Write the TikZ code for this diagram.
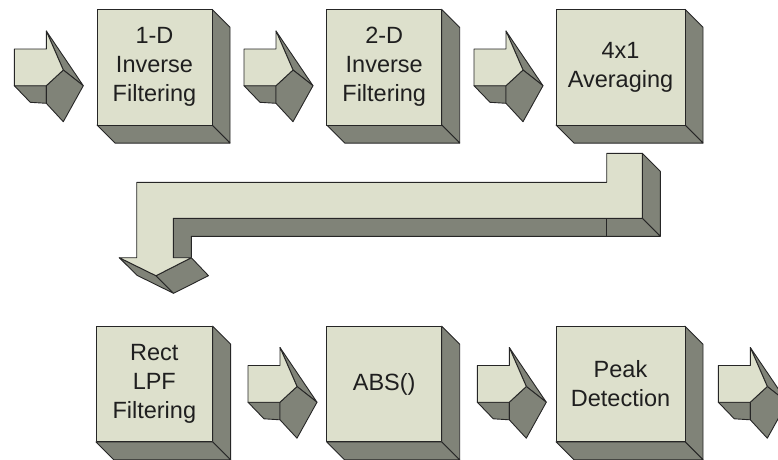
\documentclass[tikz,border=0pt]{standalone}
\usepackage{fontspec}
\setmainfont{Liberation Sans}

\definecolor{facelight}{RGB}{221,224,204}
\definecolor{faceshade}{RGB}{128,131,120}
\definecolor{edgeline}{RGB}{38,38,38}

\tikzset{
  frontface/.style={fill=facelight,draw=edgeline,line width=0.9pt,line join=round},
  sideface/.style={fill=faceshade,draw=edgeline,line width=0.9pt,line join=round},
  boxlabel/.style={align=center,font=\fontsize{23.5}{29}\selectfont,text=black!88,
    outer sep=0pt,inner sep=0pt,minimum height=115.7pt},
}

% a solid block: front face is the named node, side and bottom faces drawn behind it
\newcommand{\solidbox}[5]{%
  \draw[sideface] (#2+#4/2,#3-57.85) -- ++(18,18) -- ++(0,115.7) -- ++(-18,-18) -- cycle;
  \draw[sideface] (#2-#4/2,#3+57.85) -- ++(#4,0) -- ++(18,18) -- ++(-#4,0) -- cycle;
  \node[frontface,boxlabel,minimum width=#4pt] (#1) at (#2,#3) {#5};
}

% a solid arrow pointing right, given the left end of its shaft
\newcommand{\solidarrow}[2]{%
  \begin{scope}[shift={(#1,#2)}]
    \draw[sideface] (0,85.7) -- (32,85.7) -- (32,103.3) -- (16,102.3) -- cycle;
    \draw[sideface] (32,31) -- (69,85.7) -- (49,70) -- cycle;
    \draw[sideface] (32,85.7) -- (49,70) -- (69,85.7) -- (49,121.7) -- (32,103.3) -- cycle;
    \draw[frontface] (0,49) -- (32,49) -- (32,31) -- (49,70) -- (32,85.7) -- (0,85.7) -- cycle;
  \end{scope}}

\begin{document}
\begin{tikzpicture}[x=1pt,y=-1pt]
  \useasboundingbox (0,0) rectangle (778,459);
  \clip (0,0) rectangle (778,459);

  % upper row
  \solidarrow{14.3}{0}
  \solidbox{inv1d}{154.5}{67.2}{115}{1-D\\Inverse\\Filtering}
  \solidarrow{244}{0}
  \solidbox{inv2d}{384.2}{67.2}{115}{2-D\\Inverse\\Filtering}
  \solidarrow{474}{0}
  \solidbox{avg}{620.5}{67.2}{129}{4x1\\Averaging}

  % return arrow from the upper row down to the lower row
  \draw[sideface] (642.3,153.3) -- (660.3,171.3) -- (660.3,236.3) -- (642.3,218.3) -- cycle;
  \draw[sideface] (173.3,218.3) -- (642.3,218.3) -- (660.3,236.3) -- (191.3,236.3)
                  -- (191.3,257.7) -- (173.3,257.7) -- cycle;
  \draw[edgeline,line width=0.9pt] (606.7,218.3) -- (606.7,236.3);
  \draw[sideface] (119.3,257.7) -- (156,275.7) -- (173.5,293.3) -- (137,275.3) -- cycle;
  \draw[sideface] (156,275.7) -- (191.3,257.7) -- (208.5,275.7) -- (173.5,293.3) -- cycle;
  \draw[frontface] (136.7,182.3) -- (606.7,182.3) -- (606.7,153.3) -- (642.3,153.3)
                   -- (642.3,218.3) -- (173.3,218.3) -- (173.3,257.7) -- (191.3,257.7)
                   -- (156,275.7) -- (119.3,257.7) -- (136.7,257.7) -- cycle;

  % lower row
  \solidbox{lpf}{154.3}{384}{116.7}{Rect\\LPF\\Filtering}
  \solidarrow{248}{316.5}
  \solidbox{absv}{384.2}{384}{115}{ABS()}
  \solidarrow{477.3}{316.5}
  \solidbox{peak}{620.5}{384}{129}{Peak\\Detection}
  \solidarrow{718.3}{316.5}
\end{tikzpicture}
\end{document}
